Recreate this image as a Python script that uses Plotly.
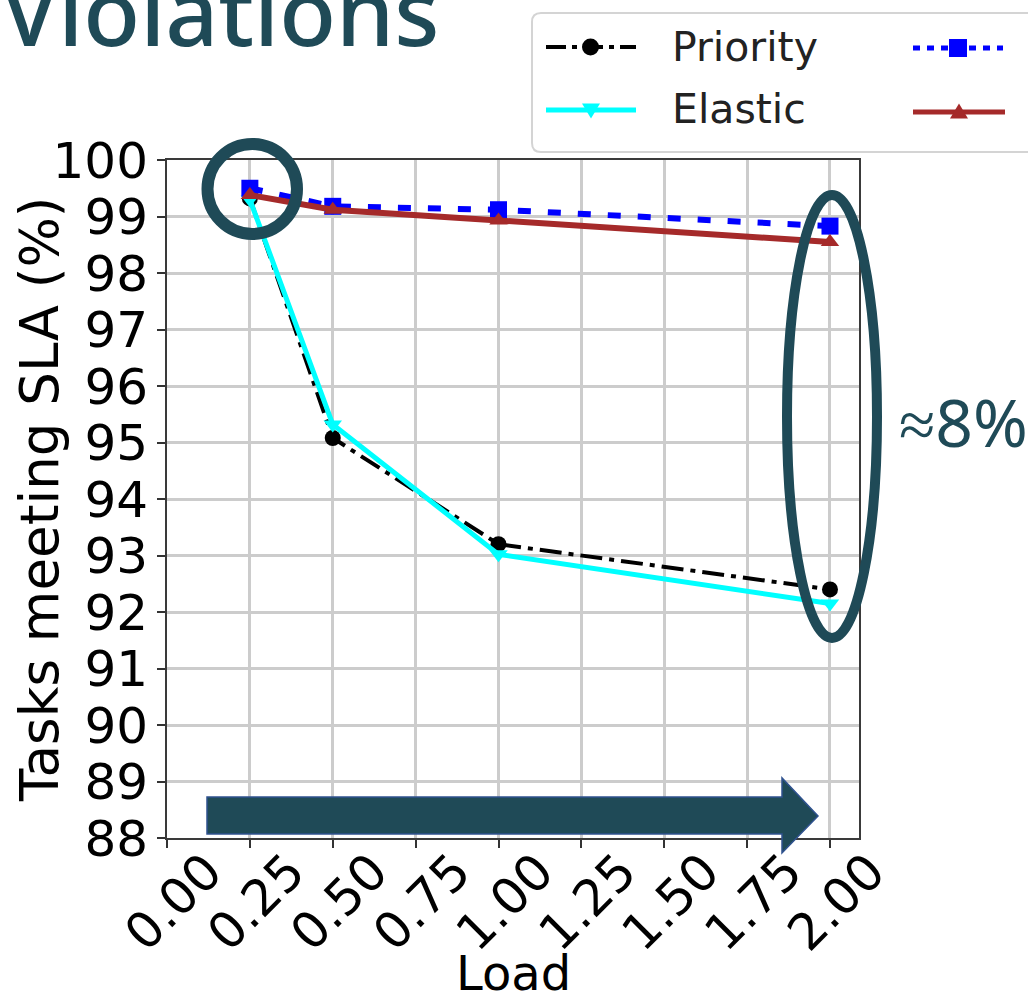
import plotly.graph_objects as go

# ---- data -------------------------------------------------------------
loads = [0.25, 0.5, 1.0, 2.0]
priority = [99.32, 95.08, 93.2, 92.4]
elastic = [99.3, 95.32, 93.02, 92.15]
policy_3 = [99.5, 99.18, 99.12, 98.83]
policy_4 = [99.38, 99.12, 98.93, 98.55]

x_ticks = [0.0, 0.25, 0.5, 0.75, 1.0, 1.25, 1.5, 1.75, 2.0]
y_ticks = list(range(88, 101))

# ---- page geometry (pixels) --------------------------------------------
W, H = 1028, 1001
L, R, T, B = 167, 859, 160, 838
TEAL = "#1F4A57"
AX_FONT = "DejaVu Sans"


def fx(p):
    """pixel x -> paper x"""
    return (p - L) / (R - L)


def fy(p):
    """pixel y -> paper y"""
    return (B - p) / (B - T)


fig = go.Figure()

series = [
    ("Priority", priority, dict(color="black", width=4, dash="22px,7px,5px,7px"),
     dict(symbol="circle", size=16, color="black")),
    ("Elastic", elastic, dict(color="#00FFFF", width=5),
     dict(symbol="triangle-down", size=16, color="#00FFFF")),
    ("Policy 3", policy_3, dict(color="#0000FF", width=6, dash="13px,17px"),
     dict(symbol="square", size=17, color="#0000FF")),
    ("Policy 4", policy_4, dict(color="#A52A2A", width=6),
     dict(symbol="triangle-up", size=16, color="#A52A2A")),
]
for name, vals, line, marker in series:
    fig.add_trace(go.Scatter(x=loads, y=vals, name=name, mode="lines+markers",
                             line=line, marker=marker, cliponaxis=False))

axis_common = dict(
    showline=True, linecolor="#3a3a3a", linewidth=2, mirror=True,
    showgrid=True, gridcolor="#cccccc", gridwidth=2.5, zeroline=False,
    ticks="outside", ticklen=8, tickwidth=2, tickcolor="#333333",
    tickfont=dict(family=AX_FONT, size=50, color="black"),
)
fig.update_xaxes(range=[0, 2.0875], tickvals=x_ticks,
                 ticktext=[f"{v:.2f}" for v in x_ticks], tickangle=-45,
                 ticklabelshift=40, ticklabelstandoff=-26, **axis_common)
fig.update_yaxes(range=[88, 100], tickvals=y_ticks,
                 ticktext=[str(v) for v in y_ticks], ticklabelstandoff=-1,
                 **axis_common)

shapes = []
ann = []

# axis titles
ann.append(dict(text="Tasks meeting SLA (%)", x=fx(39), y=fy(500), xref="paper", yref="paper",
                textangle=-90, showarrow=False, xanchor="center", yanchor="middle",
                font=dict(family=AX_FONT, size=53, color="black")))
ann.append(dict(text="Load", x=fx(513), y=fy(973), xref="paper", yref="paper",
                showarrow=False, xanchor="center", yanchor="middle",
                font=dict(family=AX_FONT, size=48, color="black")))

# heading
ann.append(dict(text="Violations", x=fx(0), y=fy(74), xref="paper", yref="paper",
                showarrow=False, xanchor="left", yanchor="bottom", borderpad=0,
                font=dict(family="Noto Sans", size=93, color=TEAL, weight=500)))

# highlight rings
shapes.append(dict(type="circle", xref="paper", yref="paper",
                   x0=fx(207.5), x1=fx(297), y0=fy(234), y1=fy(144),
                   line=dict(color=TEAL, width=12), layer="above"))
shapes.append(dict(type="circle", xref="paper", yref="paper",
                   x0=fx(787), x1=fx(877), y0=fy(638), y1=fy(195),
                   line=dict(color=TEAL, width=10), layer="above"))
ann.append(dict(text="≈8%", x=fx(897), y=fy(421), xref="paper", yref="paper",
                showarrow=False, xanchor="left", yanchor="middle",
                font=dict(family="Noto Sans", size=66, color=TEAL)))

# load arrow
arrow = [(207, 797), (782, 797), (782, 778), (818, 816), (782, 853), (782, 834), (207, 834)]
path = "M " + " L ".join(f"{fx(a):.5f},{fy(b):.5f}" for a, b in arrow) + " Z"
shapes.append(dict(type="path", xref="paper", yref="paper", path=path,
                   fillcolor=TEAL, line=dict(color="#2F528F", width=1.5), layer="above"))

# legend frame (rounded box)
bx0, by0, bx1, by1, r = 532, 13, 1070, 152, 9
pts = (f"M {fx(bx0 + r)},{fy(by0)} L {fx(bx1)},{fy(by0)} L {fx(bx1)},{fy(by1)} "
       f"L {fx(bx0 + r)},{fy(by1)} Q {fx(bx0)},{fy(by1)} {fx(bx0)},{fy(by1 - r)} "
       f"L {fx(bx0)},{fy(by0 + r)} Q {fx(bx0)},{fy(by0)} {fx(bx0 + r)},{fy(by0)} Z")
shapes.append(dict(type="path", xref="paper", yref="paper", path=pts,
                   fillcolor="rgba(255,255,255,0.9)", line=dict(color="#d4d4d4", width=2),
                   layer="above"))


def tri(cx, cy, w, h, down):
    if down:
        p = [(cx - w / 2, cy - h / 2), (cx + w / 2, cy - h / 2), (cx, cy + h / 2)]
    else:
        p = [(cx - w / 2, cy + h / 2), (cx + w / 2, cy + h / 2), (cx, cy - h / 2)]
    return "M " + " L ".join(f"{fx(a):.5f},{fy(b):.5f}" for a, b in p) + " Z"


def key_line(x0, x1, y, line):
    shapes.append(dict(type="line", xref="paper", yref="paper",
                       x0=fx(x0), x1=fx(x1), y0=fy(y), y1=fy(y), line=line, layer="above"))


# legend keys
key_line(546, 636, 47, dict(color="black", width=4, dash="20px,6px,5px,6px"))
shapes.append(dict(type="circle", xref="paper", yref="paper", x0=fx(582), x1=fx(599),
                   y0=fy(55.5), y1=fy(38.5), fillcolor="black", line=dict(width=0), layer="above"))
key_line(546, 636, 110, dict(color="#00FFFF", width=5))
shapes.append(dict(type="path", xref="paper", yref="paper", path=tri(591, 111, 18, 15, True),
                   fillcolor="#00FFFF", line=dict(width=0), layer="above"))
key_line(913, 1003, 48, dict(color="#0000FF", width=5, dash="7px,7px"))
shapes.append(dict(type="rect", xref="paper", yref="paper", x0=fx(949), x1=fx(967),
                   y0=fy(57), y1=fy(39), fillcolor="#0000FF", line=dict(width=0), layer="above"))
key_line(913, 1005, 112, dict(color="#A52A2A", width=5))
shapes.append(dict(type="path", xref="paper", yref="paper", path=tri(959, 111, 18, 15, False),
                   fillcolor="#A52A2A", line=dict(width=0), layer="above"))

for label, yy in (("Priority", 47), ("Elastic", 109)):
    ann.append(dict(text=label, x=fx(670), y=fy(yy), xref="paper", yref="paper",
                    showarrow=False, xanchor="left", yanchor="middle",
                    font=dict(family=AX_FONT, size=41, color="#222222")))

fig.update_layout(
    width=W, height=H,
    margin=dict(l=L, r=W - R, t=T, b=H - B),
    paper_bgcolor="white", plot_bgcolor="white",
    showlegend=False,
    shapes=shapes, annotations=ann,
)

fig.write_html("out.html")
